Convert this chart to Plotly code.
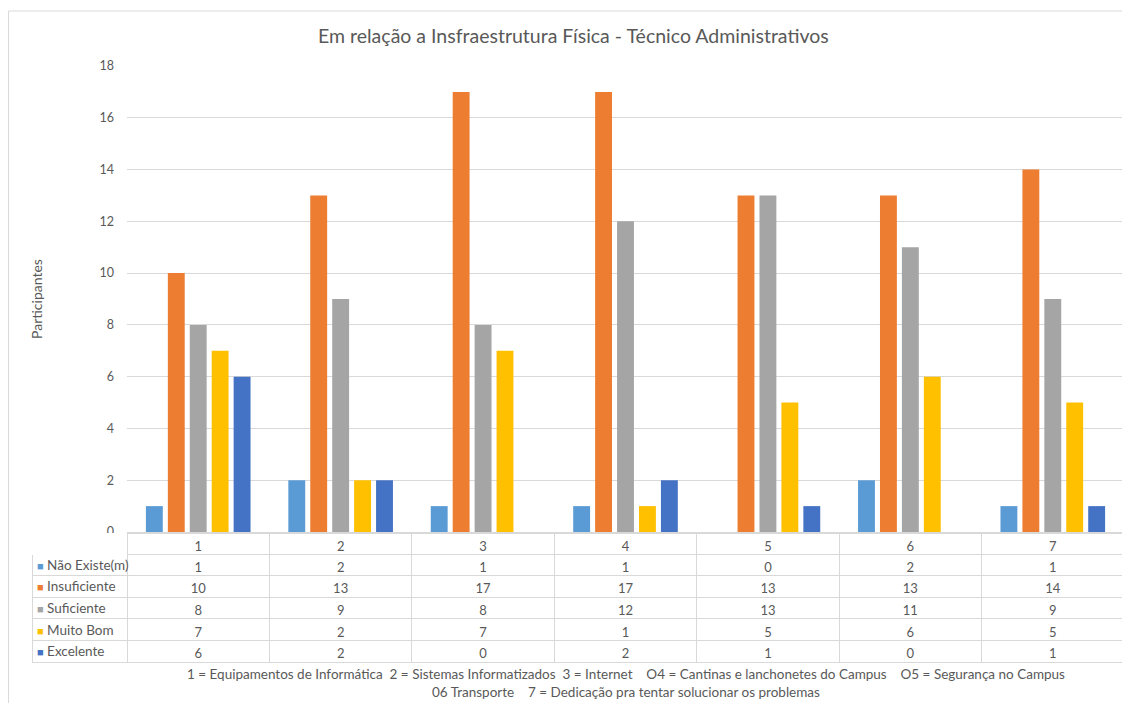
import plotly.graph_objects as go

# page body has an 8px margin: figure is placed at (8, 8)
OFF = 8
W, H = 1130 - OFF, 711 - 2 * OFF

categories = ["1", "2", "3", "4", "5", "6", "7"]
series_names = ["Não Existe(m)", "Insuficiente", "Suficiente", "Muito Bom", "Excelente"]
nao_existe = [1, 2, 1, 1, 0, 2, 1]
insuficiente = [10, 13, 17, 17, 13, 13, 14]
suficiente = [8, 9, 8, 12, 13, 11, 9]
muito_bom = [7, 2, 7, 1, 5, 6, 5]
excelente = [6, 2, 0, 2, 1, 0, 1]
series_values = [nao_existe, insuficiente, suficiente, muito_bom, excelente]
colors = ["#5B9BD5", "#ED7D31", "#A5A5A5", "#FFC000", "#4472C4"]

title_text = "Em relação a Insfraestrutura Física - Técnico Administrativos"
y_title = "Participantes"
footnote_1 = ("1 = Equipamentos de Informática  2 = Sistemas Informatizados  3 = Internet    "
              "O4 = Cantinas e lanchonetes do Campus    O5 = Segurança no Campus")
footnote_2 = "06 Transporte    7 = Dedicação pra tentar solucionar os problemas"

FONT = "Lato, 'Liberation Sans', sans-serif"
TXT = "#595959"
GRID = "#D9D9D9"


def px_x(x):
    return (x - OFF) / W


def px_y(y):
    return 1 - (y - OFF) / H


plot_l, plot_r = 127, 1124
plot_t, plot_b = 66, 532
tab_l, tab_b = 32, 662
head_h, row_h = 21, 21.6

fig = go.Figure()
for name, vals, c in zip(series_names, series_values, colors):
    fig.add_trace(go.Bar(x=categories, y=vals, name=name, marker=dict(color=c, line=dict(width=0)),
                         xaxis="x", yaxis="y", showlegend=False))

# data table
value_cols = [[str(series_values[s][i]) for s in range(5)] for i in range(len(categories))]
fig.add_trace(go.Table(
    domain=dict(x=[px_x(tab_l), px_x(plot_r)], y=[px_y(tab_b + 8), px_y(plot_b + 1)]),
    columnwidth=[plot_l - tab_l] + [(plot_r - plot_l) / 7] * 7,
    header=dict(values=[""] + categories,
                align="center", height=head_h,
                fill=dict(color="white"),
                line=dict(color=["white"] + [GRID] * 7, width=1),
                font=dict(family=FONT, size=13, color=TXT)),
    cells=dict(values=[[""] * 5] + value_cols,
               align="center", height=row_h,
               fill=dict(color="white"),
               line=dict(color=GRID, width=1),
               font=dict(family=FONT, size=13, color=TXT)),
))

annotations = [
    dict(text=title_text, xref="paper", yref="paper", x=px_x(573), y=px_y(35),
         showarrow=False, xanchor="center", yanchor="middle",
         font=dict(family=FONT, size=19.5, color=TXT)),
    dict(text=y_title, xref="paper", yref="paper", x=px_x(36), y=px_y(299),
         showarrow=False, textangle=-90, xanchor="center", yanchor="middle",
         font=dict(family=FONT, size=14, color=TXT)),
    dict(text=footnote_1, xref="paper", yref="paper", x=px_x(626), y=px_y(674),
         showarrow=False, xanchor="center", yanchor="middle",
         font=dict(family=FONT, size=13.5, color=TXT)),
    dict(text=footnote_2, xref="paper", yref="paper", x=px_x(626), y=px_y(692),
         showarrow=False, xanchor="center", yanchor="middle",
         font=dict(family=FONT, size=13.5, color=TXT)),
]
for k, (name, c) in enumerate(zip(series_names, colors)):
    yc = plot_b + 1 + head_h + row_h * k + row_h / 2
    annotations.append(dict(
        text=f"<span style='color:{c};font-size:11px'>■</span> {name}", xref="paper", yref="paper",
        x=px_x(35), y=px_y(yc), showarrow=False, xanchor="left", yanchor="middle",
        font=dict(family=FONT, size=13.5, color=TXT)))

fig.update_layout(
    width=W, height=H,
    margin=dict(l=0, r=0, t=0, b=0),
    paper_bgcolor="white", plot_bgcolor="white",
    barmode="group", bargap=0.23, bargroupgap=0.23,
    font=dict(family=FONT, color=TXT, size=12),
    xaxis=dict(domain=[px_x(plot_l), px_x(plot_r)], showticklabels=False, ticks="",
               showline=True, linecolor=GRID, linewidth=1, showgrid=False, automargin=False),
    yaxis=dict(domain=[px_y(plot_b), px_y(plot_t)], range=[0, 18], dtick=2, tick0=0,
               showgrid=True, gridcolor=GRID, gridwidth=1, zeroline=False, showline=False,
               ticks="", ticklabelstandoff=12, tickfont=dict(family=FONT, size=12.5, color=TXT),
               automargin=False),
    annotations=annotations,
    shapes=[dict(type="rect", xref="paper", yref="paper", x0=0.0005, x1=2,
                 y0=-1, y1=px_y(11), line=dict(color=GRID, width=1), layer="below")],
)

fig.write_html("out.html", config={"displayModeBar": False})
